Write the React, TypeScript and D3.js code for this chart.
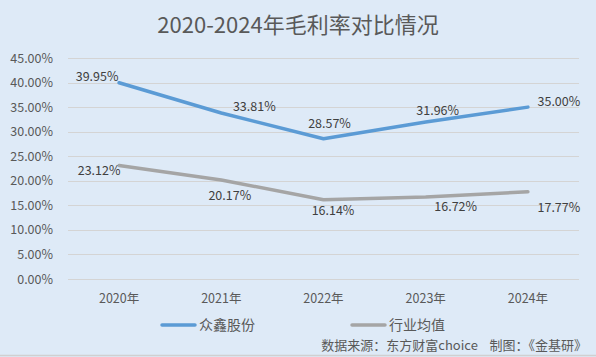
import React from "react";
import * as d3 from "d3";

const categories = ["2020年", "2021年", "2022年", "2023年", "2024年"];
const seriesNames = ["众鑫股份", "行业均值"];
const zhongxin = [39.95, 33.81, 28.57, 31.96, 35.0];
const industry = [23.12, 20.17, 16.14, 16.72, 17.77];
const yTicks = [0, 5, 10, 15, 20, 25, 30, 35, 40, 45];
const title = "2020-2024年毛利率对比情况";
const source = "数据来源：东方财富choice    制图：《金基研》";

// label offsets (px) relative to point
const blueLabelOffsets: [number, number][] = [[-22, -6], [33, -6], [6, -15], [12, -12], [31, -6]];
const grayLabelOffsets: [number, number][] = [[-20, 5.5], [8.5, 16], [9.5, 11], [30, 10], [31, 16]];

const W = 596;
const H = 357;
const colors = ["#5B9BD5", "#A5A5A5"];
const font = "'Noto Sans CJK SC', 'Noto Sans', sans-serif";

export default function App() {
  const x = d3.scaleBand<string>().domain(categories).range([68, 579]);
  const y = d3.scaleLinear().domain([0, 45]).range([279, 58]);
  const line = d3
    .line<number>()
    .x((_, i) => (x(categories[i]) as number) + x.bandwidth() / 2)
    .y((d) => y(d));
  const series = [zhongxin, industry];
  const offsets = [blueLabelOffsets, grayLabelOffsets];
  return (
    <svg width={W} height={H} style={{ position: "absolute", left: 0, top: 0, display: "block" }}>
      <rect x={0} y={0} width={W} height={H} fill="#DEEAF7" />
      <line x1={0} x2={W} y1={355.5} y2={355.5} stroke="#D0D0D0" strokeWidth={1.5} />
      <text x={W / 2} y={33} textAnchor="middle" fontFamily={font} fontSize={22} fill="#595959">
        {title}
      </text>
      {yTicks.map((t) => (
        <g key={t}>
          <line x1={68} x2={579} y1={Math.round(y(t)) + 0.5} y2={Math.round(y(t)) + 0.5} stroke="#D4D4D4" strokeWidth={1} />
          <text x={53} y={y(t) + 4.5} textAnchor="end" fontFamily={font} fontSize={12.5} fill="#595959">
            {t.toFixed(2) + "%"}
          </text>
        </g>
      ))}
      {categories.map((c) => (
        <text key={c} x={(x(c) as number) + x.bandwidth() / 2} y={303} textAnchor="middle" fontFamily={font} fontSize={12.5} fill="#595959">
          {c}
        </text>
      ))}
      {series.map((s, si) => (
        <path key={si} d={line(s) as string} fill="none" stroke={colors[si]} strokeWidth={3.5} strokeLinecap="round" strokeLinejoin="round" />
      ))}
      {series.map((s, si) =>
        s.map((v, i) => (
          <text
            key={si + "-" + i}
            x={(x(categories[i]) as number) + x.bandwidth() / 2 + offsets[si][i][0]}
            y={y(v) + offsets[si][i][1] + 4.5}
            textAnchor="middle"
            fontFamily={font}
            fontSize={12.5}
            fill="#404040"
          >
            {v.toFixed(2) + "%"}
          </text>
        ))
      )}
      {seriesNames.map((n, i) => {
        const lx = i === 0 ? 162 : 352;
        return (
          <g key={n}>
            <line x1={lx} x2={lx + 33} y1={325} y2={325} stroke={colors[i]} strokeWidth={3.5} strokeLinecap="round" />
            <text x={lx + 37} y={330} fontFamily={font} fontSize={14} fill="#595959">
              {n}
            </text>
          </g>
        );
      })}
      <text x={587} y={350} textAnchor="end" fontFamily={font} fontSize={13} fill="#595959" xmlSpace="preserve" style={{ whiteSpace: "pre" }}>
        {source}
      </text>
    </svg>
  );
}
